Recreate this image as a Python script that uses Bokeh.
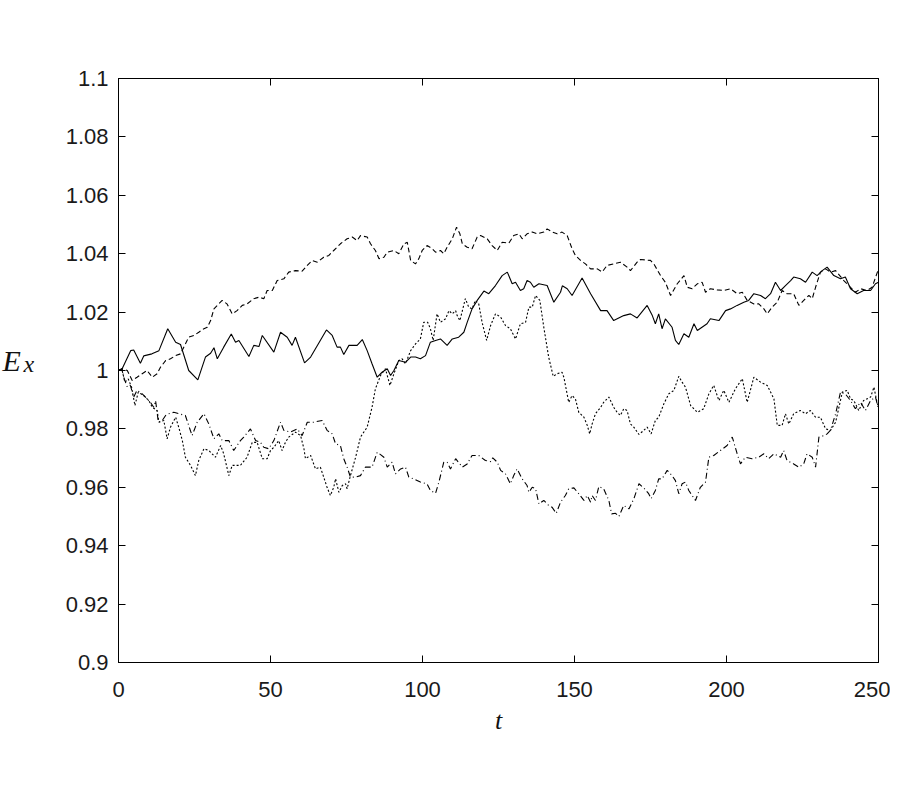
from bokeh.plotting import figure
from bokeh.models import LinearAxis, FixedTicker, Range1d
from bokeh.layouts import row
from bokeh.core.properties import value
from bokeh.embed import file_html
from bokeh.resources import INLINE

# ---------------- data ----------------
t_solid = [0, 1.2, 4, 5, 7.2, 8.3, 11, 13.3, 16.2, 18.8, 20.4, 23.1, 26.1, 28.6, 30.3, 31.4, 32.5, 34.6, 37.1, 38.5,
           39.6, 42.9, 44.5, 46.2, 47.3, 51.1, 53.3, 55.5, 57.1, 58.2, 61.2, 63.2, 68.4, 70.3, 71.9, 73, 74.1, 75.8,
           78.5, 80.2, 81.8, 83.4, 85.1, 86.7, 88.4, 89.5, 90.6, 92.2, 94.4, 96.1, 97.7, 99.3, 101, 102.6, 104.3,
           105.9, 108.1, 109.8, 111.9, 113.6, 114.7, 116.3, 118, 120.2, 121.8, 124, 126.2, 127.9, 129.5, 130.6,
           132.2, 133.3, 134.4, 135.5, 136.6, 138.3, 141, 143.2, 145.4, 146, 147.6, 149.2, 152.5, 155.3, 158.6,
           160.7, 162.9, 166.2, 168.4, 170.6, 173.9, 175.6, 176.6, 177.7, 178.8, 179.9, 182.1, 183.2, 184.3, 186,
           187.6, 189.3, 190.4, 193.6, 194.7, 197.5, 199.7, 201.3, 203.5, 205.7, 207.3, 209, 211.2, 212.8, 214.5,
           216.1, 217.8, 219.4, 221.1, 222.1, 224.3, 226, 228.2, 229.8, 231.5, 233.1, 235.3, 237.5, 239.1, 240.8,
           243, 245.1, 247.4, 249, 250]
e_solid = [1.0, 1.0006, 1.0068, 1.007, 1.0025, 1.005, 1.0057, 1.0068, 1.0143, 1.0097, 1.0089, 1.0, 0.9968, 1.0046,
           1.0059, 1.0078, 1.004, 1.008, 1.0125, 1.0097, 1.0103, 1.0048, 1.0086, 1.0082, 1.012, 1.0063, 1.0131,
           1.0114, 1.0086, 1.0114, 1.0026, 1.0046, 1.0139, 1.012, 1.008, 1.008, 1.0055, 1.0086, 1.0086, 1.0106,
           1.0068, 1.0023, 0.9977, 0.9994, 1.0006, 0.9983, 1.0, 1.0034, 1.0028, 1.0046, 1.0046, 1.004, 1.0051,
           1.0097, 1.0103, 1.0108, 1.0086, 1.0108, 1.0114, 1.0131, 1.0165, 1.0211, 1.024, 1.0272, 1.0263, 1.0291,
           1.0325, 1.0337, 1.0297, 1.0302, 1.0274, 1.028, 1.0308, 1.0302, 1.0285, 1.0297, 1.0291, 1.0234, 1.0268,
           1.029, 1.028, 1.0257, 1.0317, 1.0263, 1.0205, 1.0205, 1.0171, 1.0188, 1.0194, 1.018, 1.0223, 1.0188,
           1.016, 1.0194, 1.0143, 1.0177, 1.0148, 1.0103, 1.0089, 1.0126, 1.0114, 1.016, 1.0137, 1.016, 1.0177,
           1.0171, 1.0205, 1.0211, 1.0223, 1.0234, 1.024, 1.0263, 1.0257, 1.0246, 1.0263, 1.0302, 1.0274, 1.0291,
           1.0308, 1.032, 1.0314, 1.0302, 1.0337, 1.0325, 1.0342, 1.0354, 1.0325, 1.0314, 1.032, 1.028, 1.0263,
           1.0274, 1.0274, 1.0297, 1.0302]

t_dashed = [0, 1.2, 2.9, 4.5, 6.1, 7.8, 9.4, 11.1, 12.7, 13.8, 15.5, 17.1, 18.8, 20.4, 22, 23.1, 24.8, 26.4, 28.1,
            29.2, 30.3, 31.4, 32.5, 34.1, 35.7, 37.4, 39, 40.7, 42.3, 44.5, 46.2, 47.8, 48.9, 50.6, 52.2, 54.4, 56,
            58.2, 60.4, 62.1, 63.7, 65.4, 67.5, 69.2, 70.8, 73, 75.2, 76.9, 78.5, 79.6, 81.8, 82.9, 84.5, 85.7,
            87.3, 88.4, 90.6, 92.2, 93.9, 95, 96.1, 97.7, 98.8, 99.9, 101.5, 103.2, 104.3, 105.9, 107, 108.1, 109.8,
            111.2, 112.3, 113.1, 114.7, 116.3, 118, 119.1, 121.3, 122.9, 124.6, 126.2, 128.4, 130, 131.7, 132.8,
            134.4, 136.1, 137.7, 139.9, 141, 142.7, 144.3, 145.9, 147.6, 149.2, 150.3, 152, 153.6, 155.3, 157.5,
            159.1, 160.7, 162.9, 165.1, 167.3, 168.4, 170.6, 171.7, 175, 176.1, 178.3, 179.9, 181.6, 183.8, 186,
            187.1, 188.7, 190.4, 192, 193.1, 194.7, 196.9, 199.1, 201.3, 203.5, 205.2, 206.8, 209, 210.6, 212.3,
            213.4, 215, 216.7, 218.3, 219.9, 222.1, 223.8, 225.4, 227.1, 228.2, 229.3, 230.9, 232.6, 234.2, 235.9,
            238.6, 240.8, 242.4, 244.1, 246.3, 247.9, 250]
e_dashed = [1.0, 1.0006, 1.0, 0.9966, 0.9977, 0.9989, 1.0, 0.9977, 0.9989, 1.0011, 1.0034, 1.004, 1.0051, 1.0057,
            1.0091, 1.0114, 1.012, 1.0131, 1.0143, 1.0148, 1.0171, 1.0211, 1.0223, 1.024, 1.0228, 1.0194, 1.0205,
            1.0223, 1.0228, 1.0246, 1.0251, 1.0246, 1.0274, 1.0274, 1.0308, 1.0314, 1.0337, 1.0342, 1.034, 1.036,
            1.0377, 1.0371, 1.0388, 1.0394, 1.0411, 1.0434, 1.0451, 1.0457, 1.0445, 1.0462, 1.0457, 1.0434, 1.0411,
            1.0383, 1.0388, 1.0405, 1.0411, 1.04, 1.0434, 1.0439, 1.0377, 1.0365, 1.0383, 1.0411, 1.0428, 1.0417,
            1.0405, 1.0411, 1.04, 1.0422, 1.0451, 1.0491, 1.0468, 1.0434, 1.0422, 1.0417, 1.0457, 1.0462, 1.0451,
            1.0428, 1.0411, 1.0439, 1.0436, 1.0462, 1.0468, 1.0451, 1.0468, 1.0474, 1.0468, 1.0474, 1.0485, 1.0474,
            1.0468, 1.0474, 1.0462, 1.0417, 1.0394, 1.0377, 1.0365, 1.0348, 1.0348, 1.0337, 1.036, 1.0365, 1.0371,
            1.0354, 1.0342, 1.0371, 1.038, 1.0377, 1.0365, 1.0325, 1.0302, 1.0257, 1.0297, 1.0325, 1.0285, 1.028,
            1.0297, 1.0302, 1.0268, 1.028, 1.0276, 1.0274, 1.028, 1.0263, 1.0268, 1.024, 1.0228, 1.0228, 1.0211,
            1.0194, 1.0217, 1.0234, 1.0274, 1.0263, 1.0263, 1.0223, 1.024, 1.0257, 1.0246, 1.0285, 1.0337, 1.0348,
            1.0337, 1.0342, 1.0308, 1.0285, 1.0268, 1.028, 1.0274, 1.0285, 1.0348]

t_dotted = [0, 1.2, 2.1, 3.2, 4.3, 5.4, 6.5, 8.3, 10, 11.1, 12.7, 13.3, 14.9, 16, 17.1, 18.8, 19.8, 21, 22, 23.7,
            25.3, 26.4, 28.1, 29.7, 31.9, 33.6, 34.6, 36.3, 37.4, 40.1, 42.3, 44, 45.6, 47.3, 48.9, 50, 51.1, 52.7,
            53.8, 54.9, 56, 58.2, 59.9, 61, 61.5, 63.2, 64.8, 66.4, 67.5, 68.6, 69.7, 70.8, 71.4, 72.5, 73.6, 74.7,
            75.2, 76.3, 78, 79.6, 81.8, 83.4, 84.5, 86.2, 87.8, 89.3, 90.6, 92.2, 93.3, 94.4, 96.1, 97.7, 99.3,
            100.4, 101.7, 102.6, 103.5, 104.8, 105.9, 107.6, 108.7, 109.8, 110.9, 111.4, 112.3, 114.1, 115.2,
            116.3, 117.4, 118.5, 119.6, 121.1, 122.4, 124, 125.7, 127.3, 128.9, 130.6, 132.2, 133.9, 135, 136.1,
            137.2, 138.6, 139.9, 141.5, 143, 144.3, 145.9, 146.5, 148.1, 149.2, 150.3, 151.4, 153.1, 154.2, 155,
            155.8, 156.9, 158.6, 159.6, 161.3, 162.9, 164, 165.1, 166.2, 167.3, 168.4, 169.5, 171.2, 172.8, 173.9,
            175.2, 176.6, 177.7, 179.4, 181, 182.7, 184.3, 185.4, 186.5, 188.2, 190.4, 192.5, 194.2, 195.8, 197.5,
            199.1, 200.8, 202.9, 205.2, 206.8, 209, 211.2, 213.4, 215.6, 216.7, 218.3, 219.4, 220.5, 222.1, 224.3,
            226, 227.6, 229.3, 230.9, 232.6, 234.2, 235.9, 238.1, 239.7, 240.8, 241.9, 243.5, 245.1, 247.4, 248.5,
            249.6, 250]
e_dotted = [1.0, 1.0, 0.996, 0.9971, 0.9943, 0.988, 0.9926, 0.9914, 0.9897, 0.9874, 0.9863, 0.9823, 0.9829, 0.9766,
            0.9806, 0.984, 0.9806, 0.976, 0.9703, 0.9675, 0.964, 0.9692, 0.9732, 0.9726, 0.9703, 0.9743, 0.9715,
            0.964, 0.9675, 0.9675, 0.9703, 0.9754, 0.9754, 0.9698, 0.9698, 0.9726, 0.9737, 0.976, 0.9726, 0.9754,
            0.9772, 0.9789, 0.9777, 0.9732, 0.9698, 0.9709, 0.9663, 0.9669, 0.9635, 0.96, 0.9572, 0.96, 0.9629,
            0.9583, 0.9606, 0.9612, 0.9595, 0.964, 0.9703, 0.9772, 0.9806, 0.9874, 0.9937, 0.9983, 1.0006, 0.9949,
            0.9989, 1.0034, 1.004, 1.0023, 1.0068, 1.0091, 1.0108, 1.0165, 1.0165, 1.0143, 1.0103, 1.0194, 1.0165,
            1.0177, 1.0205, 1.0194, 1.0205, 1.0188, 1.0171, 1.0246, 1.0217, 1.0211, 1.024, 1.0228, 1.0165, 1.0103,
            1.0154, 1.0194, 1.0183, 1.0154, 1.0143, 1.0108, 1.016, 1.0165, 1.0217, 1.0217, 1.0257, 1.024, 1.0148,
            1.0046, 0.998, 0.9989, 0.9994, 0.9977, 0.9891, 0.9914, 0.9903, 0.9857, 0.984, 0.9812, 0.9783, 0.9817,
            0.9852, 0.9874, 0.9891, 0.9909, 0.9874, 0.9857, 0.9846, 0.9869, 0.9863, 0.9817, 0.9806, 0.9781, 0.9795,
            0.9806, 0.9783, 0.9829, 0.984, 0.9886, 0.992, 0.9932, 0.998, 0.996, 0.9943, 0.988, 0.9857, 0.9869,
            0.992, 0.9949, 0.9897, 0.9932, 0.9891, 0.9937, 0.9972, 0.9891, 0.9977, 0.996, 0.9949, 0.9903, 0.9812,
            0.9812, 0.9852, 0.9817, 0.9852, 0.9863, 0.9852, 0.9863, 0.984, 0.984, 0.98, 0.9795, 0.9823, 0.9926,
            0.9932, 0.9903, 0.9897, 0.9863, 0.9897, 0.9909, 0.9943, 0.9886, 0.988]

t_dashdot = [0, 1.2, 1.7, 2.9, 3.9, 5, 6.1, 7.8, 9.4, 10.5, 11.6, 12.2, 13.1, 14.4, 15.5, 16.5, 18.2, 19.8, 22,
             24.2, 25.9, 28.1, 29.7, 31.4, 33, 34.1, 36.3, 37.9, 40.1, 41.2, 43.4, 45.1, 46.7, 47.8, 49.4, 51.1,
             53.3, 54.4, 56.6, 58.8, 60.4, 62.1, 64.2, 67, 68.6, 70.3, 71.4, 73, 74.1, 75.2, 76.3, 78, 79.6, 81.2,
             83.4, 85.1, 86.2, 87.3, 88.4, 90, 91.1, 92.8, 94.4, 95.5, 97.1, 99.3, 101.5, 102.6, 104.3, 105.4, 107,
             108.1, 109.2, 110.9, 113.1, 114.7, 116.3, 118.5, 120.7, 122.4, 123.1, 124.6, 125.7, 127.3, 128.9, 130,
             131.1, 132.8, 134.4, 135, 136.1, 137.2, 138.3, 139.9, 141.5, 142.6, 144, 145.4, 147, 148.1, 149.8,
             151.4, 153.1, 154.2, 155.3, 155.8, 156.9, 158, 159.6, 161.3, 162.2, 163.5, 164.6, 166.2, 167.9, 169.5,
             171.2, 172.8, 174.4, 175.2, 176.6, 177.7, 178.8, 180.5, 182.1, 183.2, 184.3, 185.4, 186.5, 187.6,
             189.8, 191.4, 193.1, 194.2, 195.8, 198, 200.2, 201.9, 203.5, 204.6, 206.2, 208.4, 210.6, 212.3, 213.9,
             215.6, 217.8, 218.8, 219.9, 222.1, 223.8, 225.4, 226.5, 228.2, 229.3, 230.4, 232.1, 233.1, 234.2,
             235.9, 237.5, 239.1, 240.8, 242.4, 244.1, 245.7, 247.4, 249, 250]
e_dashdot = [1.0, 1.0006, 0.9977, 0.9943, 0.9949, 0.9909, 0.9932, 0.992, 0.9903, 0.9891, 0.9874, 0.9897, 0.9823,
             0.9829, 0.9846, 0.9852, 0.9857, 0.9852, 0.9846, 0.9777, 0.9823, 0.9852, 0.9817, 0.9766, 0.9783, 0.976,
             0.976, 0.9726, 0.976, 0.9772, 0.98, 0.976, 0.9754, 0.9737, 0.9732, 0.976, 0.9823, 0.9795, 0.9789, 0.98,
             0.9777, 0.9823, 0.9823, 0.9829, 0.9795, 0.9783, 0.9749, 0.9743, 0.9698, 0.9669, 0.9635, 0.9635, 0.964,
             0.9669, 0.9669, 0.972, 0.9712, 0.9703, 0.9669, 0.9686, 0.9646, 0.9663, 0.9669, 0.9635, 0.9629, 0.9618,
             0.9612, 0.9589, 0.958, 0.9618, 0.9686, 0.9686, 0.9663, 0.9698, 0.9669, 0.968, 0.9709, 0.9709, 0.9692,
             0.9688, 0.9701, 0.9686, 0.9658, 0.9646, 0.9612, 0.964, 0.9663, 0.9629, 0.9606, 0.9583, 0.96, 0.9595,
             0.9543, 0.9555, 0.9538, 0.9532, 0.9511, 0.9549, 0.9572, 0.9595, 0.9598, 0.9578, 0.9555, 0.9572, 0.9549,
             0.9572, 0.9555, 0.9603, 0.9595, 0.9555, 0.9509, 0.9511, 0.95, 0.9538, 0.9526, 0.956, 0.9612, 0.9598,
             0.9578, 0.9561, 0.9589, 0.9629, 0.9629, 0.9658, 0.964, 0.9623, 0.9578, 0.9612, 0.9618, 0.9589, 0.9555,
             0.96, 0.9618, 0.9703, 0.9709, 0.9726, 0.9743, 0.9772, 0.9715, 0.968, 0.9703, 0.9698, 0.9703, 0.9715,
             0.9698, 0.9715, 0.9703, 0.9726, 0.9692, 0.968, 0.9669, 0.968, 0.9715, 0.9703, 0.9669, 0.9772, 0.9777,
             0.9783, 0.9795, 0.9852, 0.9926, 0.992, 0.9897, 0.9869, 0.9891, 0.9863, 0.9897, 0.9909, 0.9869]

x_ticks = [0, 50, 100, 150, 200, 250]
y_ticks = [0.9, 0.92, 0.94, 0.96, 0.98, 1.0, 1.02, 1.04, 1.06, 1.08, 1.1]
y_tick_labels = ["0.9", "0.92", "0.94", "0.96", "0.98", "1", "1.02", "1.04", "1.06", "1.08", "1.1"]
x_label = "t"
y_label_main = ["E"]
y_label_sub = ["x"]

TOTAL_H = 790
LEFT_W = 46

# ---------------- main figure ----------------
p = figure(width=844, height=TOTAL_H, output_backend="svg", toolbar_location=None,
           x_range=Range1d(0, 250), y_range=Range1d(0.9, 1.1),
           min_border_left=72, min_border_right=12, min_border_top=78, min_border_bottom=128)
p.background_fill_color = "white"
p.border_fill_color = "white"
p.outline_line_color = "black"
p.outline_line_width = 1
p.xgrid.visible = False
p.ygrid.visible = False

FONT = "Liberation Sans"
overrides = {v: s for v, s in zip(y_ticks, y_tick_labels)}

for ax in p.xaxis:
    ax.ticker = FixedTicker(ticks=x_ticks)
for ax in p.yaxis:
    ax.ticker = FixedTicker(ticks=y_ticks)
    ax.major_label_overrides = overrides

for ax in list(p.xaxis) + list(p.yaxis):
    ax.major_tick_in = 7
    ax.major_tick_out = 0
    ax.minor_tick_in = 0
    ax.minor_tick_out = 0
    ax.axis_line_color = "black"
    ax.major_tick_line_color = "black"
    ax.major_label_text_font = FONT
    ax.major_label_text_font_size = "22px"
    ax.major_label_text_color = "#1a1a1a"

p.xaxis.major_label_standoff = 19
p.yaxis.major_label_standoff = 10
p.xaxis.axis_label = x_label
p.xaxis.axis_label_text_font = "Liberation Serif"
p.xaxis.axis_label_text_font_style = "italic"
p.xaxis.axis_label_text_font_size = "26px"
p.xaxis.axis_label_text_color = "#111111"
p.xaxis.axis_label_standoff = 6

# mirrored axes (ticks on all four sides, no labels)
right = LinearAxis(ticker=FixedTicker(ticks=y_ticks), major_tick_in=7, major_tick_out=0,
                   minor_tick_in=0, minor_tick_out=0, major_label_text_alpha=0,
                   major_label_text_font_size="1px")
top = LinearAxis(ticker=FixedTicker(ticks=x_ticks), major_tick_in=7, major_tick_out=0,
                 minor_tick_in=0, minor_tick_out=0, major_label_text_alpha=0,
                 major_label_text_font_size="1px")
p.add_layout(right, "right")
p.add_layout(top, "above")

# series
p.line(t_solid, e_solid, line_color="black", line_width=1.1)
p.line(t_dashed, e_dashed, line_color="black", line_width=1.1, line_dash="5 3")
p.line(t_dotted, e_dotted, line_color="black", line_width=1.1, line_dash="2 2")
p.line(t_dashdot, e_dashdot, line_color="black", line_width=1.1, line_dash="6 3 1 3")

# ---------------- left strip carrying the E_x label ----------------
lab = figure(width=LEFT_W, height=TOTAL_H, output_backend="svg", toolbar_location=None,
             x_range=Range1d(0, LEFT_W), y_range=Range1d(0, TOTAL_H),
             x_axis_location=None, y_axis_location=None, min_border=0)
lab.outline_line_color = None
lab.xgrid.visible = False
lab.ygrid.visible = False
lab.background_fill_color = "white"
lab.border_fill_color = "white"
lab.text(x=[2], y=[TOTAL_H - 381], text=y_label_main, text_font=value("Liberation Serif"),
         text_font_style="italic", text_font_size="30px", text_color="#111111",
         text_baseline="alphabetic", text_align="left")
lab.text(x=[23], y=[TOTAL_H - 386], text=y_label_sub, text_font=value("Liberation Serif"),
         text_font_style="italic", text_font_size="24px", text_color="#111111",
         text_baseline="alphabetic", text_align="left")

layout = row(lab, p, spacing=0)
open("out.html", "w").write(file_html(layout, INLINE))
